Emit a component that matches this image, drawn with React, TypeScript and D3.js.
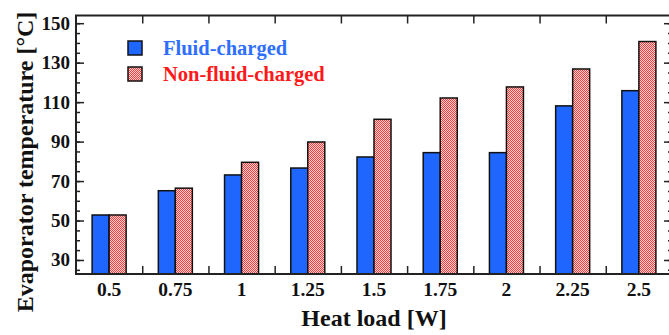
import { useRef, useEffect } from 'react';
import * as d3 from 'd3';

const heatLoads = ['0.5', '0.75', '1', '1.25', '1.5', '1.75', '2', '2.25', '2.5'];
const fluidCharged = [52.8, 65.1, 73.1, 76.6, 82.2, 84.4, 84.4, 108.1, 115.8];
const nonFluidCharged = [52.8, 66.4, 79.5, 89.8, 101.3, 112.1, 117.7, 126.8, 140.7];
const seriesNames = ['Fluid-charged', 'Non-fluid-charged'];
const yTicks = [30, 50, 70, 90, 110, 130, 150];
const yMinorTicks = d3.range(25, 155, 5);

const FONT = 'Liberation Serif, Times New Roman, Times, serif';
const BLUE = '#1f66ff';

export default function App() {
  const svgRef = useRef<SVGSVGElement>(null);

  useEffect(() => {
    document.body.style.margin = '0';
    if (!svgRef.current) return;
    const svg = d3.select(svgRef.current);
    svg.selectAll('*').remove();

    const width = 669;
    const height = 335;
    const left = 76, right = 672, top = 15.5, bottom = 274;

    const x = d3.scaleBand<string>().domain(heatLoads).range([left, right]).padding(0);
    const xInner = d3.scaleBand<string>().domain(seriesNames).range([0, x.bandwidth()])
      .paddingInner(0).paddingOuter(0.947);
    const y = d3.scaleLinear().domain([22.9, 153.9]).range([bottom, top]);

    svg.attr('width', width).attr('height', height)
      .attr('font-family', FONT).attr('font-weight', 'bold');

    // checker pattern for the non-fluid bars
    const defs = svg.append('defs');
    const pat = defs.append('pattern')
      .attr('id', 'checker').attr('patternUnits', 'userSpaceOnUse')
      .attr('width', 2).attr('height', 2);
    pat.append('rect').attr('width', 2).attr('height', 2).attr('fill', '#ffd6d6');
    pat.append('rect').attr('width', 1).attr('height', 1).attr('fill', '#ff3a3a');
    pat.append('rect').attr('x', 1).attr('y', 1).attr('width', 1).attr('height', 1).attr('fill', '#ff3a3a');

    const fills = [BLUE, 'url(#checker)'];
    const series = [fluidCharged, nonFluidCharged];

    // Bars
    series.forEach((vals, si) => {
      svg.append('g').selectAll('rect')
        .data(vals)
        .join('rect')
        .attr('x', (_, i) => x(heatLoads[i])! + xInner(seriesNames[si])!)
        .attr('y', (d) => y(d))
        .attr('width', xInner.bandwidth())
        .attr('height', (d) => bottom - y(d))
        .attr('fill', fills[si])
        .attr('stroke', '#111')
        .attr('stroke-width', 1.5);
    });

    // Axes (ticks inward on all four sides)
    const styleAxis = (g: d3.Selection<SVGGElement, unknown, null, undefined>) => {
      g.select('.domain').remove();
      g.selectAll('line').attr('stroke', '#222').attr('stroke-width', 1.5);
      g.selectAll('text').remove();
    };
    const boundaries = heatLoads.slice(1);
    const bx = (d: string) => x(d)!;
    const xb = d3.scaleLinear().domain([left, right]).range([left, right]);
    svg.append('g').attr('transform', `translate(0,${bottom})`)
      .call(d3.axisTop(xb).tickValues(boundaries.map(bx)).tickSizeInner(8).tickSizeOuter(0))
      .call(styleAxis);
    svg.append('g').attr('transform', `translate(0,${top})`)
      .call(d3.axisBottom(xb).tickValues(boundaries.map(bx)).tickSizeInner(8).tickSizeOuter(0))
      .call(styleAxis);
    svg.append('g').attr('transform', `translate(${left},0)`)
      .call(d3.axisRight(y).tickValues(yMinorTicks).tickSizeInner(4).tickSizeOuter(0))
      .call(styleAxis);
    svg.append('g').attr('transform', `translate(${left},0)`)
      .call(d3.axisRight(y).tickValues(yTicks).tickSizeInner(8).tickSizeOuter(0))
      .call(styleAxis);
    svg.append('g').attr('transform', `translate(${right},0)`)
      .call(d3.axisLeft(y).tickValues(yMinorTicks).tickSizeInner(4).tickSizeOuter(0))
      .call(styleAxis);
    svg.append('g').attr('transform', `translate(${right},0)`)
      .call(d3.axisLeft(y).tickValues(yTicks).tickSizeInner(8).tickSizeOuter(0))
      .call(styleAxis);

    // Frame
    svg.append('rect')
      .attr('x', left).attr('y', top)
      .attr('width', right - left).attr('height', bottom - top)
      .attr('fill', 'none').attr('stroke', '#222').attr('stroke-width', 2);

    // Tick labels
    svg.append('g').selectAll('text')
      .data(yTicks)
      .join('text')
      .attr('x', 70).attr('y', (d) => y(d))
      .attr('dy', '0.34em')
      .attr('text-anchor', 'end')
      .attr('font-size', 19)
      .attr('fill', '#111')
      .text((d) => d);
    svg.append('g').selectAll('text')
      .data(heatLoads)
      .join('text')
      .attr('x', (d) => x(d)! + x.bandwidth() / 2).attr('y', 296)
      .attr('text-anchor', 'middle')
      .attr('font-size', 19.5)
      .attr('fill', '#111')
      .text((d) => d);

    // Axis titles
    svg.append('text')
      .attr('x', (left + right) / 2).attr('y', 326)
      .attr('text-anchor', 'middle')
      .attr('font-size', 24)
      .attr('fill', '#111')
      .text('Heat load [W]');
    svg.append('text')
      .attr('transform', 'translate(33,162) rotate(-90)')
      .attr('text-anchor', 'middle')
      .attr('font-size', 24)
      .attr('fill', '#111')
      .text('Evaporator temperature [°C]');

    // Legend
    const legendColors = ['#2f6fff', '#ff1a1a'];
    const legend = svg.append('g').attr('transform', 'translate(128,41)');
    seriesNames.forEach((name, i) => {
      const ly = i * 26;
      legend.append('rect')
        .attr('x', 0).attr('y', ly).attr('width', 14).attr('height', 14)
        .attr('fill', fills[i]).attr('stroke', '#111').attr('stroke-width', 1.5);
      legend.append('text')
        .attr('x', 35).attr('y', ly + 14)
        .attr('font-size', 20.5)
        .attr('fill', legendColors[i])
        .text(name);
    });
  }, []);

  return <svg ref={svgRef} style={{ display: 'block' }} />;
}
